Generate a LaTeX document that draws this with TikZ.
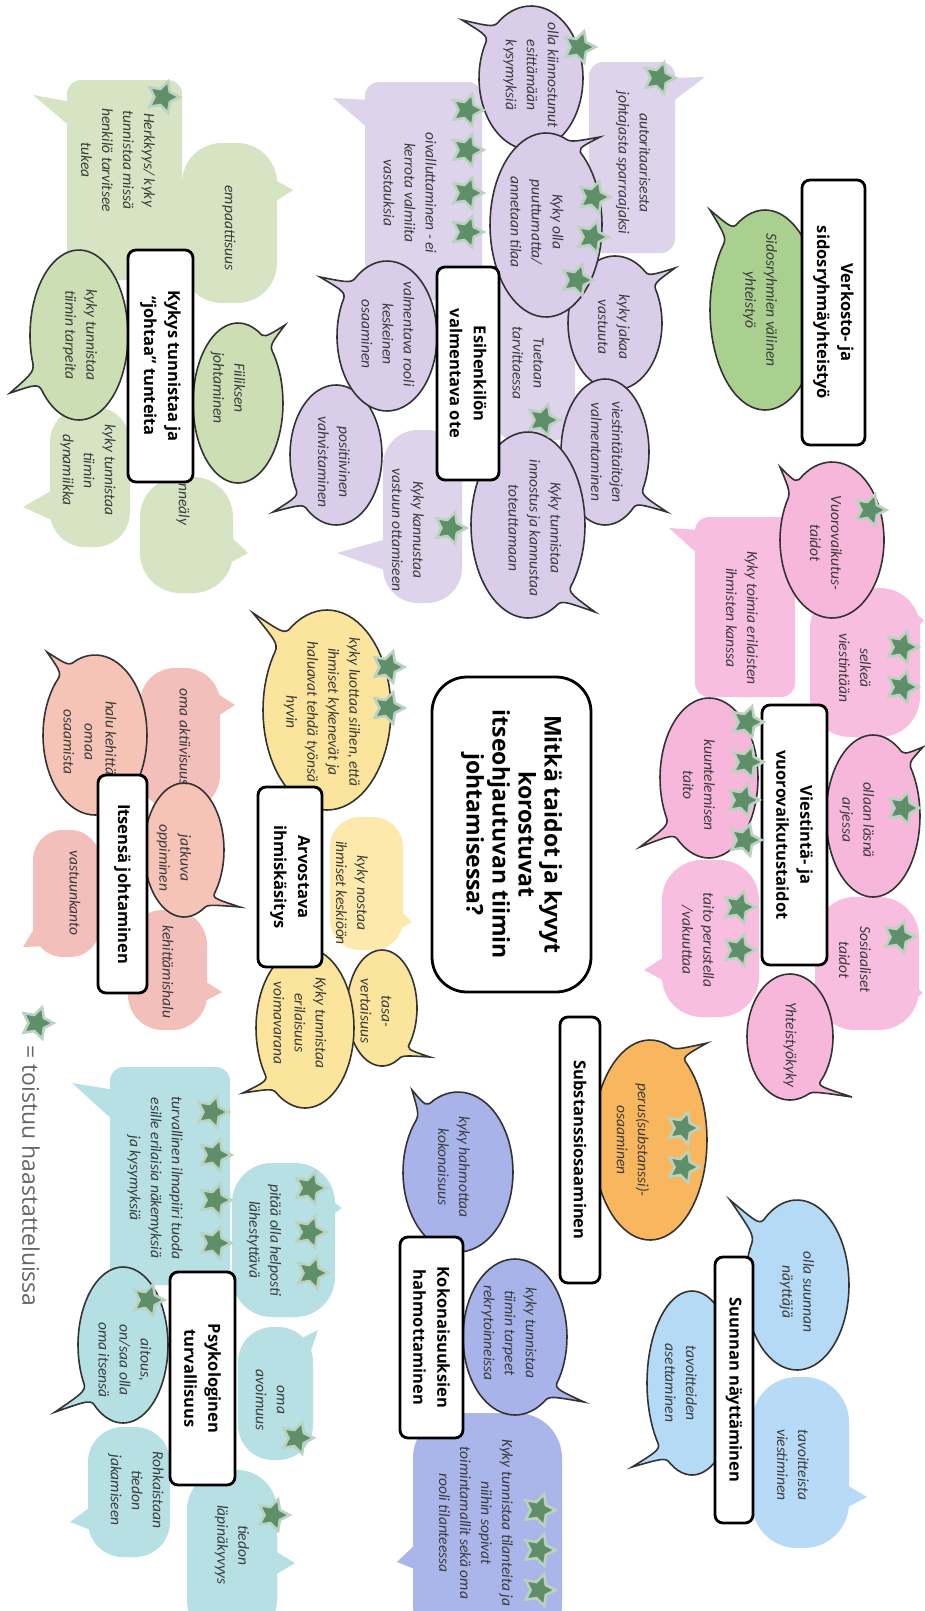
\documentclass[tikz,border=0pt]{standalone}
\usepackage{fontspec}
\setmainfont{Carlito}
\newfontfamily\boxfont{Open Sans}
\usetikzlibrary{shapes.geometric}
\definecolor{txt}{HTML}{3A3A3A}
\definecolor{gP}{HTML}{D7E4C3}
\definecolor{gB}{HTML}{CCDEB3}
\definecolor{gD}{HTML}{A9D08E}
\definecolor{pP}{HTML}{DDD4EB}
\definecolor{pB}{HTML}{D9CDEA}
\definecolor{kP}{HTML}{F7BEDF}
\definecolor{kB}{HTML}{F6B7DB}
\definecolor{sP}{HTML}{F3BFBB}
\definecolor{sB}{HTML}{F5C4B7}
\definecolor{yP}{HTML}{FCE9AB}
\definecolor{yB}{HTML}{FBE49C}
\definecolor{oB}{HTML}{F8B75E}
\definecolor{wP}{HTML}{AAB5EA}
\definecolor{wB}{HTML}{A8B3EA}
\definecolor{bP}{HTML}{B7DBF6}
\definecolor{bB}{HTML}{B5DAF5}
\definecolor{tP}{HTML}{B6E0E3}
\definecolor{tB}{HTML}{B4DFE3}
\definecolor{starF}{HTML}{5E8F69}
\definecolor{starL}{HTML}{BCD2C0}
\tikzset{
  bord/.style={draw=black!80, line width=1.6pt},
  btxt/.style={rotate=-90, align=center, inner sep=0pt, text=txt, font=\fontsize{15.5}{21}\selectfont\itshape},
  boxS/.style={rotate=-90, draw=black, line width=2.8pt, fill=white, rounded corners=8pt, align=center, inner sep=0pt, font=\boxfont\bfseries\fontsize{16.5}{24}\selectfont},
  titleS/.style={rotate=-90, draw=black, line width=2.8pt, fill=white, rounded corners=35pt, align=center, inner sep=0pt, font=\boxfont\bfseries\fontsize{23}{26}\selectfont},
  starS/.style={star, star points=5, star point ratio=1.95, minimum size=33pt, inner sep=0pt, fill=starF, draw=starL, line width=2.6pt, shape border rotate=-90},
}
% bordered elliptic speech bubble: fill, cx, cy, rx, ry, tail angle, half width, tip x, tip y
\newcommand\eb[9]{%
  \pgfmathsetmacro\aS{#6+#7}%
  \pgfmathsetmacro\aE{#6-#7+360}%
  \pgfmathsetmacro\pSx{#2+#4*cos(\aS)}%
  \pgfmathsetmacro\pSy{#3+#5*sin(\aS)}%
  \pgfmathsetmacro\cAx{#2+#4*cos(#6-#7/3)}%
  \pgfmathsetmacro\cAy{#3+#5*sin(#6-#7/3)}%
  \pgfmathsetmacro\cBx{#2+#4*cos(#6+#7/3)}%
  \pgfmathsetmacro\cBy{#3+#5*sin(#6+#7/3)}%
  \filldraw[fill=#1, bord] plot[domain=\aS:\aE, samples=72, variable=\t] ({#2+#4*cos(\t)},{#3+#5*sin(\t)})
     .. controls (\cAx,\cAy) .. (#8,#9) .. controls (\cBx,\cBy) .. (\pSx,\pSy) -- cycle;}
\newcommand\mystar[2]{\node[starS] at (#1,#2) {};}
\begin{document}
\begin{tikzpicture}[x=1pt,y=-1pt]
\useasboundingbox (0,0) rectangle (924,1611);
\fill[white] (0,0) rectangle (924,1611);

% ===== pale shapes =====
% green
\fill[gP, rounded corners=14pt] (67,80) rectangle (182,280);
\fill[gP] (33,95) -- (72,102) -- (72,128) -- cycle;
\fill[gP, rounded corners=40pt] (182,143) rectangle (277,303);
\fill[gP] (293,190) -- (268,176) -- (268,206) -- cycle;
\fill[gP, rounded corners=35pt] (50,407) rectangle (130,547);
\fill[gP] (23,507) -- (56,488) -- (56,522) -- cycle;
\fill[gP, rounded corners=40pt] (140,477) rectangle (233,593);
\fill[gP] (248,553) -- (226,532) -- (226,565) -- cycle;
% purple
\fill[pP, rounded corners=14pt] (365,82) rectangle (482,300);
\fill[pP] (333,98) -- (370,100) -- (370,130) -- cycle;
\fill[pP, rounded corners=20pt] (495,250) rectangle (575,440);
\fill[pP, rounded corners=14pt] (589,62) rectangle (675,253);
\fill[pP] (705,77) -- (668,78) -- (668,105) -- cycle;
\fill[pP, rounded corners=35pt] (383,430) rectangle (462,603);
\fill[pP] (337,553) -- (390,538) -- (390,572) -- cycle;
% pink
\fill[kP, rounded corners=14pt] (695,517) rectangle (795,697);
\fill[kP] (669,528) -- (700,530) -- (700,556) -- cycle;
\fill[kP, rounded corners=40pt] (810,588) rectangle (920,737);
\fill[kP] (924,620) -- (905,606) -- (905,640) -- cycle;
\fill[kP, rounded corners=40pt] (815,897) rectangle (919,1030);
\fill[kP] (923,993) -- (905,978) -- (905,1006) -- cycle;
\fill[kP, rounded corners=40pt] (662,860) rectangle (759,1017);
\fill[kP] (644,970) -- (672,952) -- (672,985) -- cycle;
% salmon
\fill[sP, rounded corners=35pt] (140,668) rectangle (220,810);
\fill[sP] (235,705) -- (212,690) -- (212,720) -- cycle;
\fill[sP, rounded corners=30pt] (33,830) rectangle (100,957);
\fill[sP] (23,947) -- (42,916) -- (50,946) -- cycle;
\fill[sP, rounded corners=35pt] (128,910) rectangle (207,1030);
\fill[sP] (222,992) -- (200,978) -- (200,1004) -- cycle;
% yellow
\fill[yP, rounded corners=30pt] (330,817) rectangle (403,950);
\fill[yP] (412,922) -- (395,905) -- (395,932) -- cycle;
% periwinkle
\fill[wP, rounded corners=45pt] (413,1413) rectangle (562,1650);
\fill[wP] (397,1562) -- (422,1538) -- (422,1572) -- cycle;
% light blue
\fill[bP, rounded corners=45pt] (752,1377) rectangle (849,1548);
\fill[bP] (867,1497) -- (842,1482) -- (842,1510) -- cycle;
% teal
\fill[tP, rounded corners=14pt] (110,1067) rectangle (230,1285);
\fill[tP] (72,1083) -- (115,1090) -- (115,1122) -- cycle;
\fill[tP, rounded corners=40pt] (232,1163) rectangle (335,1317);
\fill[tP] (342,1208) -- (322,1194) -- (322,1222) -- cycle;
\fill[tP, rounded corners=35pt] (238,1327) rectangle (313,1460);
\fill[tP] (318,1330) -- (298,1340) -- (306,1365) -- cycle;
\fill[tP, rounded corners=35pt] (88,1427) rectangle (170,1557);
\fill[tP] (70,1522) -- (96,1503) -- (96,1532) -- cycle;
\fill[tP, rounded corners=40pt] (187,1470) rectangle (277,1640);
\fill[tP] (295,1563) -- (270,1548) -- (270,1578) -- cycle;

% ===== bordered bubbles =====
\eb{gB}{79}{335}{49}{85}{150}{14}{10}{393}
\eb{gB}{238}{403}{45}{80}{-50}{13}{285}{325}
\eb{pB}{531}{78}{52}{72}{220}{14}{462}{20}
\eb{pB}{615}{323}{47}{67}{-40}{13}{675}{268}
\eb{pB}{546}{225}{56}{92}{-60}{12}{600}{137}
\eb{pB}{605}{452}{44}{73}{40}{13}{667}{512}
\eb{pB}{528}{525}{57}{93}{50}{12}{595}{612}
\eb{pB}{336}{455}{46}{70}{140}{13}{273}{512}
\eb{pB}{387}{336}{50}{75}{220}{14}{320}{277}
\eb{gD}{765}{310}{55}{100}{230}{12}{710}{210}
\eb{kB}{832}{540}{52}{78}{222}{14}{780}{467}
\eb{kB}{709}{778}{49}{80}{140}{13}{640}{847}
\eb{kB}{873}{816}{47}{81}{-45}{12}{923}{747}
\eb{kB}{790}{1037}{43}{63}{55}{13}{852}{1097}
\eb{sB}{95}{735}{52}{80}{235}{14}{47}{652}
\eb{sB}{184}{850}{40}{67}{50}{13}{240}{907}
\eb{yB}{327}{710}{64}{100}{225}{12}{253}{613}
\eb{yB}{382}{1008}{35}{58}{50}{14}{430}{1057}
\eb{yB}{305}{1028}{49}{80}{135}{12}{243}{1093}
\eb{oB}{650}{1140}{57}{100}{-60}{12}{707}{1043}
\eb{wB}{458}{1172}{55}{80}{230}{14}{412}{1090}
\eb{wB}{515}{1337}{52}{78}{45}{12}{584}{1402}
\eb{bB}{797}{1285}{52}{85}{220}{14}{730}{1200}
\eb{bB}{692}{1383}{45}{92}{130}{12}{632}{1467}
\eb{tB}{123}{1345}{45}{78}{140}{13}{55}{1412}

% ===== bubble texts =====
\node[btxt] (t01) at (118,160) {Herkkyys/ kyky\\tunnistaa missä\\henkilö tarvitsee\\tukea};
\node[btxt] (t02) at (229,228) {empaattisuus};
\node[btxt] (t03) at (88,470) {kyky tunnistaa\\tiimin\\dynamiikka};
\node[btxt] (t04) at (183,497) {Tunneäly};
\node[btxt] (t05) at (80,335) {kyky tunnistaa\\tiimin tarpeita};
\node[btxt] (t06) at (228,388) {Fiiliksen\\johtaminen};
\node[btxt] (t07) at (410,193) {oivalluttaminen - ei\\kerrota valmiita\\vastauksia};
\node[btxt] (t08) at (528,363) {Tuetaan\\tarvittaessa};
\node[btxt] (t09) at (633,163) {autoritaarisesta\\johtajasta sparraajaksi};
\node[btxt] (t10) at (408,530) {Kyky kannustaa\\vastuun ottamiseen};
\node[btxt] (t11) at (531,75) {olla kiinnostunut\\esittämään\\kysymyksiä};
\node[btxt] (t12) at (537,222) {Kyky olla\\puuttumatta/\\annetaan tilaa};
\node[btxt] (t13) at (614,327) {kyky jakaa\\vastuuta};
\node[btxt] (t14) at (607,452) {viestintätaitojen\\valmentaminen};
\node[btxt] (t15) at (535,528) {Kyky tunnistaa\\innostus ja kannustaa\\toteuttamaan};
\node[btxt] (t16) at (388,334) {valmentava rooli\\keskeinen\\osaaminen};
\node[btxt] (t17) at (334,462) {positiivinen\\vahvistaminen};
\node[btxt] (t18) at (760,300) {Sidosryhmien välinen\\yhteistyö};
\node[btxt] (t19) at (742,618) {Kyky toimia erilaisten\\ihmisten kanssa};
\node[btxt] (t20) at (855,668) {selkeä\\viestintään};
\node[btxt] (t21) at (855,960) {Sosiaaliset\\taidot};
\node[btxt] (t22) at (698,940) {taito perustella\\/vakuuttaa};
\node[btxt] (t23) at (826,543) {Vuorovaikutus-\\taidot};
\node[btxt] (t24) at (699,785) {kuuntelemisen\\taito};
\node[btxt] (t25) at (857,820) {ollaan läsnä\\arjessa};
\node[btxt] (t26) at (790,1045) {Yhteistyökyky};
\node[btxt] (t27) at (185,737) {oma aktiivisuus};
\node[btxt] (t28) at (75,893) {vastuunkanto};
\node[btxt] (t29) at (168,972) {kehittämishalu};
\node[btxt] (t30) at (90,742) {halu kehittää\\omaa\\osaamista};
\node[btxt] (t31) at (174,858) {jatkuva\\oppiminen};
\node[btxt] (t32) at (352,893) {kyky nostaa\\ihmiset keskiöön};
\node[btxt] (t33) at (322,712) {kyky luottaa siihen, että\\ihmiset kykenevät ja\\haluavat tehdä työnsä\\hyvin};
\node[btxt] (t34) at (376,1011) {tasa-\\vertaisuus};
\node[btxt] (t35) at (300,1023) {Kyky tunnistaa\\erilaisuus\\voimavarana};
\node[btxt] (t36) at (633,1140) {perus(substanssi)-\\osaaminen};
\node[btxt] (t37) at (476,1523) {Kyky tunnistaa tilanteita ja\\niihin sopivat\\toimintamallit sekä oma\\rooli tilanteessa};
\node[btxt] (t38) at (454,1167) {kyky hahmottaa\\kokonaisuus};
\node[btxt] (t39) at (509,1333) {kyky tunnistaa\\tiimin tarpeet\\rekrytoinneissa};
\node[btxt] (t40) at (793,1465) {tavoitteista\\viestiminen};
\node[btxt] (t41) at (797,1292) {olla suunnan\\näyttäjä};
\node[btxt] (t42) at (681,1383) {tavoitteiden\\asettaminen};
\node[btxt] (t43) at (155,1178) {turvallinen ilmapiiri tuoda\\esille erilaisia näkemyksiä\\ja kysymyksiä};
\node[btxt] (t44) at (264,1240) {pitää olla helposti\\lähestyttävä};
\node[btxt] (t45) at (270,1400) {oma\\avoimuus};
\node[btxt] (t46) at (136,1490) {Rohkaistaan\\tiedon\\jakamiseen};
\node[btxt] (t47) at (232,1545) {tiedon\\läpinäkyvyys};
\node[btxt] (t48) at (125,1360) {aitous,\\on/saa olla\\oma itsensä};

% ===== title boxes =====
\node[boxS, minimum width=232pt, minimum height=65pt] (b1) at (160.5,366) {Kykys tunnistaa ja\\“johtaa” tunteita};
\node[boxS, minimum width=213pt, minimum height=62pt] (b2) at (468,373.5) {Esihenkilön\\valmentava ote};
\node[boxS, minimum width=265pt, minimum height=63pt] (b3) at (833.5,312.5) {Verkosto- ja\\sidosryhmäyhteistyö};
\node[boxS, minimum width=260pt, minimum height=65pt] (b4) at (794.5,835) {Viestintä- ja\\vuorovaikutustaidot};
\node[titleS, minimum width=315pt, minimum height=159pt] (b0) at (511.5,834.5) {Mitkä taidot ja kyvyt\\korostuvat\\itseohjautuvan tiimin\\johtamisessa?};
\node[boxS, minimum width=218pt, minimum height=49pt] (b5) at (122.5,884) {Itsensä johtaminen};
\node[boxS, minimum width=180pt, minimum height=64pt] (b6) at (290,877) {Arvostava\\ihmiskäsitys};
\node[boxS, minimum width=266pt, minimum height=40pt] (b7) at (580,1150) {Substanssiosaaminen};
\node[boxS, minimum width=201pt, minimum height=63pt] (b8) at (431.5,1337.5) {Kokonaisuuksien\\hahmottaminen};
\node[boxS, minimum width=266pt, minimum height=38pt] (b9) at (734,1390) {Suunnan näyttäminen};
\node[boxS, minimum width=213pt, minimum height=65pt] (b10) at (202.5,1378.5) {Psykologinen\\turvallisuus};

% ===== stars =====
\mystar{163}{97}
\mystar{467}{110}\mystar{467}{150}\mystar{467}{193}\mystar{467}{232}
\mystar{543}{420}
\mystar{659}{78}
\mystar{579}{47}
\mystar{594}{197}\mystar{592}{237}\mystar{577}{280}
\mystar{450}{528}
\mystar{870}{510}
\mystar{902}{647}\mystar{902}{687}
\mystar{747}{722}\mystar{747}{762}\mystar{743}{800}\mystar{745}{840}
\mystar{903}{808}
\mystar{899}{937}
\mystar{739}{907}\mystar{739}{950}
\mystar{388}{667}\mystar{388}{708}
\mystar{683}{1128}\mystar{683}{1167}
\mystar{539}{1510}\mystar{539}{1550}\mystar{539}{1590}
\mystar{212}{1112}\mystar{215}{1155}\mystar{215}{1200}\mystar{215}{1243}
\mystar{310}{1188}\mystar{310}{1232}\mystar{312}{1273}
\mystar{297}{1438}
\mystar{148}{1300}
\mystar{273}{1515}

% ===== legend =====
\node[starS] (ls) at (37,1023) {};
\node[rotate=-90, anchor=west, inner sep=0pt, text=black!60, font=\boxfont\fontsize{23}{26}\selectfont] (lt) at (31,1045) {= toistuu haastatteluissa};
\end{tikzpicture}
\end{document}
